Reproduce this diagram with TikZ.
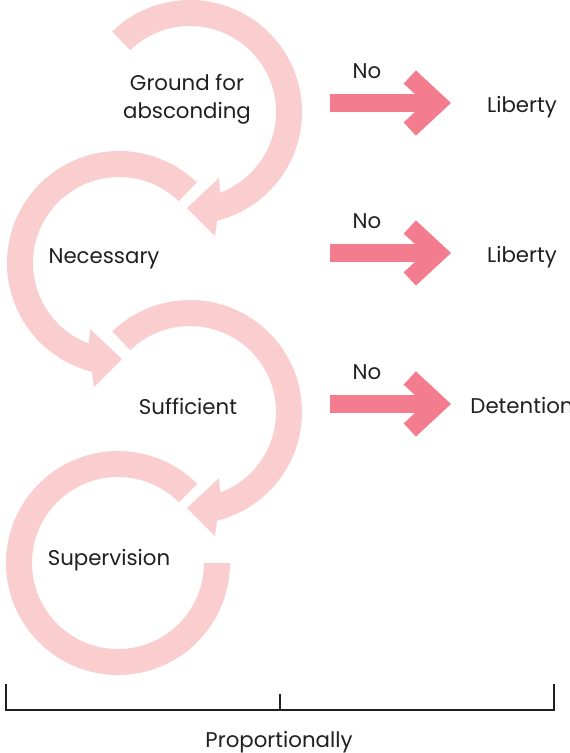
\documentclass[tikz,border=0pt]{standalone}
\usepackage{fontspec}
\setmainfont{Poppins}
\usetikzlibrary{arrows.meta}
\definecolor{ringpink}{RGB}{250,206,206}
\definecolor{arrowpink}{RGB}{244,124,143}
\definecolor{textgray}{RGB}{35,31,32}
\tikzset{
  looparrow/.pic={
    \fill[ringpink] (134:112) arc[start angle=134, end angle=-76, radius=112]
      -- (25,-124) -- (-3,-96) -- (29,-66) -- (-69.5:86)
      arc[start angle=-69.5, end angle=134, radius=86] -- cycle;
  },
  lbl/.style={font=\fontsize{21.3}{28}\selectfont, text=textgray, inner sep=0pt},
  noarrow/.style={draw=arrowpink, line width=18pt, -{Straight Barb[length=28pt,width=52pt]}},
  bracket/.style={draw=textgray, line width=1.1pt},
}
\begin{document}
\begin{tikzpicture}[x=1pt,y=1pt]
\useasboundingbox (0,0) rectangle (570,-753);
% the four loops
\pic at (190,-112) {looparrow};
\pic[xscale=-1] at (119,-263) {looparrow};
\pic at (190,-412) {looparrow};
\coordinate (c4) at (118,-563);
\fill[ringpink] (c4) ++(45:112) arc[start angle=45, end angle=360, radius=112]
  -- ([shift={(0:86)}]c4) arc[start angle=360, end angle=45, radius=86] -- cycle;

% labels in the loops
\node[lbl, align=center, anchor=base] (ground) at (187,-118) {Ground for\\absconding};
\node[lbl, anchor=base] (necessary) at (104,-263) {Necessary};
\node[lbl, anchor=base] (sufficient) at (188,-414) {Sufficient};
\node[lbl, anchor=base] (supervision) at (109,-565) {Supervision};

% outcomes
\node[lbl, anchor=base] (no1) at (367,-78) {No};
\node[lbl, anchor=base] (no2) at (367,-228) {No};
\node[lbl, anchor=base] (no3) at (367,-379) {No};
\node[lbl, anchor=base] (liberty1) at (522,-112) {Liberty};
\node[lbl, anchor=base] (liberty2) at (522,-262) {Liberty};
\node[lbl, anchor=base] (detention) at (522,-413) {Detention};

\coordinate (s1) at (330,-103); \coordinate (e1) at (451,-103);
\coordinate (s2) at (330,-253); \coordinate (e2) at (451,-253);
\coordinate (s3) at (330,-404); \coordinate (e3) at (451,-404);
\draw[noarrow] (s1) -- (e1);
\draw[noarrow] (s2) -- (e2);
\draw[noarrow] (s3) -- (e3);

% bracket
\draw[bracket] (6,-684) |- (554,-710) -- (554,-684);
\draw[bracket] (280,-710) -- (280,-694);
\node[lbl, anchor=base] (prop) at (279,-747) {Proportionally};
\end{tikzpicture}
\end{document}
